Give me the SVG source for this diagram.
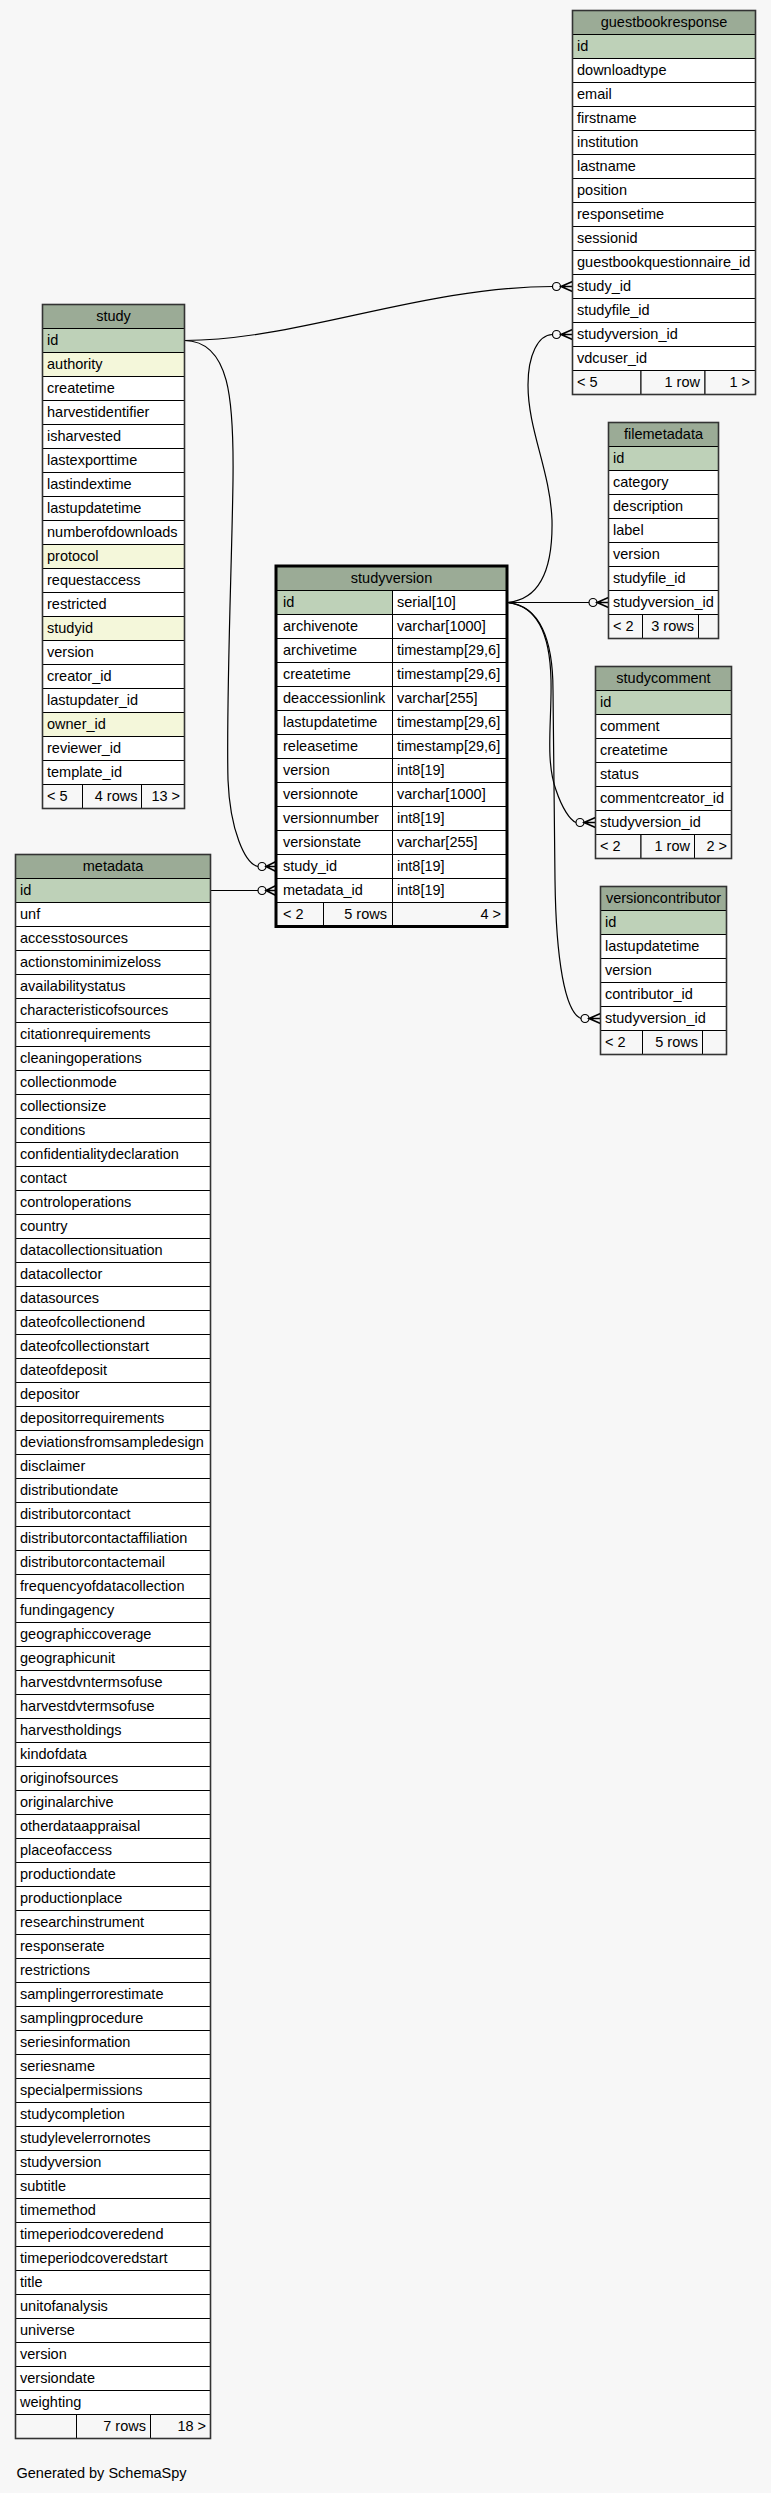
<svg xmlns="http://www.w3.org/2000/svg" width="771" height="2493" viewBox="0 0 771 2493">
<style>
rect{stroke:#000;stroke-width:1}
rect.bg{fill:#f7f7f7;stroke:none}
.hd{fill:#9bab96}.pk{fill:#bed1b8}.ix{fill:#f4f7da}.c{fill:#fff}.ft{fill:#f7f7f7}
.ob{fill:none;stroke:#333;stroke-width:1.6}
.obs{fill:none;stroke:#000;stroke-width:3}
text{font-family:"Liberation Sans",Arial,sans-serif;font-size:14.5px;fill:#000}
.h{text-anchor:middle}.r{text-anchor:end}
.e{fill:none;stroke:#000;stroke-width:1.2}
.dot{fill:#f7f7f7;stroke:#000;stroke-width:1.2}
.crow{fill:none;stroke:#000;stroke-width:1.6}
</style>
<rect class="bg" x="0" y="0" width="771" height="2493"/>

<g id="connectors">
<path class="e" d="M184.5,340.5 C300,340 420,287 552.5,286.5"/>
<circle class="dot" cx="556.5" cy="286.5" r="4"/>
<path class="crow" d="M572.5,281.5 L561,286.5 L572.5,291.5 M561,286.5 L572.5,286.5"/>

<path class="e" d="M184.5,340.5 C230,341 234,400 233,480 C232,560 226,700 228,780 C230,830 245,864 258,866.5"/>
<circle class="dot" cx="262" cy="866.5" r="4"/>
<path class="crow" d="M276,861.5 L266,866.5 L276,871.5 M266,866.5 L276,866.5"/>

<path class="e" d="M210.5,890.5 L258,890.5"/>
<circle class="dot" cx="262" cy="890.5" r="4"/>
<path class="crow" d="M276,885.5 L266,890.5 L276,895.5 M266,890.5 L276,890.5"/>

<path class="e" d="M507,602.5 C540,600 553,570 552,520 C550,470 528,430 528,385 C528,355 538,335 552.5,334.5"/>
<circle class="dot" cx="556.5" cy="334.5" r="4"/>
<path class="crow" d="M572.5,329.5 L561,334.5 L572.5,339.5 M561,334.5 L572.5,334.5"/>

<path class="e" d="M507,602.5 L589,602.5"/>
<circle class="dot" cx="593" cy="602.5" r="4"/>
<path class="crow" d="M608.5,597.5 L597,602.5 L608.5,607.5 M597,602.5 L608.5,602.5"/>

<path class="e" d="M507,602.5 C535,605 550,630 551,680 C552,720 545,760 556,790 C562,808 570,820 576,822.5"/>
<circle class="dot" cx="580" cy="822.5" r="4"/>
<path class="crow" d="M595.5,817.5 L584,822.5 L595.5,827.5 M584,822.5 L595.5,822.5"/>

<path class="e" d="M507,602.5 C540,605 553,640 553,690 L555,880 C556,960 565,1012 581,1018.5"/>
<circle class="dot" cx="585" cy="1018.5" r="4"/>
<path class="crow" d="M600.5,1013.5 L589,1018.5 L600.5,1023.5 M589,1018.5 L600.5,1018.5"/>
</g>

<g id="guestbookresponse">
<rect class="hd" x="572.5" y="10.5" width="183" height="24"/><text class="h" x="664" y="26.5">guestbookresponse</text>
<rect class="pk" x="572.5" y="34.5" width="183" height="24"/><text x="577" y="50.5">id</text>
<rect class="c" x="572.5" y="58.5" width="183" height="24"/><text x="577" y="74.5">downloadtype</text>
<rect class="c" x="572.5" y="82.5" width="183" height="24"/><text x="577" y="98.5">email</text>
<rect class="c" x="572.5" y="106.5" width="183" height="24"/><text x="577" y="122.5">firstname</text>
<rect class="c" x="572.5" y="130.5" width="183" height="24"/><text x="577" y="146.5">institution</text>
<rect class="c" x="572.5" y="154.5" width="183" height="24"/><text x="577" y="170.5">lastname</text>
<rect class="c" x="572.5" y="178.5" width="183" height="24"/><text x="577" y="194.5">position</text>
<rect class="c" x="572.5" y="202.5" width="183" height="24"/><text x="577" y="218.5">responsetime</text>
<rect class="c" x="572.5" y="226.5" width="183" height="24"/><text x="577" y="242.5">sessionid</text>
<rect class="c" x="572.5" y="250.5" width="183" height="24"/><text x="577" y="266.5">guestbookquestionnaire_id</text>
<rect class="c" x="572.5" y="274.5" width="183" height="24"/><text x="577" y="290.5">study_id</text>
<rect class="c" x="572.5" y="298.5" width="183" height="24"/><text x="577" y="314.5">studyfile_id</text>
<rect class="c" x="572.5" y="322.5" width="183" height="24"/><text x="577" y="338.5">studyversion_id</text>
<rect class="c" x="572.5" y="346.5" width="183" height="24"/><text x="577" y="362.5">vdcuser_id</text>
<rect class="ft" x="572.5" y="370.5" width="68.5" height="24"/><text x="577" y="386.5">&lt; 5</text>
<rect class="ft" x="641" y="370.5" width="64" height="24"/><text class="r" x="700" y="386.5">1 row</text>
<rect class="ft" x="705" y="370.5" width="50.5" height="24"/><text class="r" x="750" y="386.5">1 &gt;</text>
<rect class="ob" x="572.5" y="10.5" width="183" height="384"/>
</g>

<g id="study">
<rect class="hd" x="42.5" y="304.5" width="142" height="24"/><text class="h" x="113.5" y="320.5">study</text>
<rect class="pk" x="42.5" y="328.5" width="142" height="24"/><text x="47" y="344.5">id</text>
<rect class="ix" x="42.5" y="352.5" width="142" height="24"/><text x="47" y="368.5">authority</text>
<rect class="c" x="42.5" y="376.5" width="142" height="24"/><text x="47" y="392.5">createtime</text>
<rect class="c" x="42.5" y="400.5" width="142" height="24"/><text x="47" y="416.5">harvestidentifier</text>
<rect class="c" x="42.5" y="424.5" width="142" height="24"/><text x="47" y="440.5">isharvested</text>
<rect class="c" x="42.5" y="448.5" width="142" height="24"/><text x="47" y="464.5">lastexporttime</text>
<rect class="c" x="42.5" y="472.5" width="142" height="24"/><text x="47" y="488.5">lastindextime</text>
<rect class="c" x="42.5" y="496.5" width="142" height="24"/><text x="47" y="512.5">lastupdatetime</text>
<rect class="c" x="42.5" y="520.5" width="142" height="24"/><text x="47" y="536.5">numberofdownloads</text>
<rect class="ix" x="42.5" y="544.5" width="142" height="24"/><text x="47" y="560.5">protocol</text>
<rect class="c" x="42.5" y="568.5" width="142" height="24"/><text x="47" y="584.5">requestaccess</text>
<rect class="c" x="42.5" y="592.5" width="142" height="24"/><text x="47" y="608.5">restricted</text>
<rect class="ix" x="42.5" y="616.5" width="142" height="24"/><text x="47" y="632.5">studyid</text>
<rect class="c" x="42.5" y="640.5" width="142" height="24"/><text x="47" y="656.5">version</text>
<rect class="c" x="42.5" y="664.5" width="142" height="24"/><text x="47" y="680.5">creator_id</text>
<rect class="c" x="42.5" y="688.5" width="142" height="24"/><text x="47" y="704.5">lastupdater_id</text>
<rect class="ix" x="42.5" y="712.5" width="142" height="24"/><text x="47" y="728.5">owner_id</text>
<rect class="c" x="42.5" y="736.5" width="142" height="24"/><text x="47" y="752.5">reviewer_id</text>
<rect class="c" x="42.5" y="760.5" width="142" height="24"/><text x="47" y="776.5">template_id</text>
<rect class="ft" x="42.5" y="784.5" width="40" height="24"/><text x="47" y="800.5">&lt; 5</text>
<rect class="ft" x="82.5" y="784.5" width="59" height="24"/><text class="r" x="137.5" y="800.5">4 rows</text>
<rect class="ft" x="141.5" y="784.5" width="43" height="24"/><text class="r" x="180" y="800.5">13 &gt;</text>
<rect class="ob" x="42.5" y="304.5" width="142" height="504"/>
</g>

<g id="studyversion">
<rect class="hd" x="276" y="566" width="231" height="24.5"/><text class="h" x="391.5" y="582.5">studyversion</text>
<rect class="pk" x="276" y="590.5" width="116.5" height="24"/><text x="283" y="606.5">id</text>
<rect class="c" x="392.5" y="590.5" width="114.5" height="24"/><text x="397" y="606.5">serial[10]</text>
<rect class="c" x="276" y="614.5" width="116.5" height="24"/><text x="283" y="630.5">archivenote</text>
<rect class="c" x="392.5" y="614.5" width="114.5" height="24"/><text x="397" y="630.5">varchar[1000]</text>
<rect class="c" x="276" y="638.5" width="116.5" height="24"/><text x="283" y="654.5">archivetime</text>
<rect class="c" x="392.5" y="638.5" width="114.5" height="24"/><text x="397" y="654.5">timestamp[29,6]</text>
<rect class="c" x="276" y="662.5" width="116.5" height="24"/><text x="283" y="678.5">createtime</text>
<rect class="c" x="392.5" y="662.5" width="114.5" height="24"/><text x="397" y="678.5">timestamp[29,6]</text>
<rect class="c" x="276" y="686.5" width="116.5" height="24"/><text x="283" y="702.5">deaccessionlink</text>
<rect class="c" x="392.5" y="686.5" width="114.5" height="24"/><text x="397" y="702.5">varchar[255]</text>
<rect class="c" x="276" y="710.5" width="116.5" height="24"/><text x="283" y="726.5">lastupdatetime</text>
<rect class="c" x="392.5" y="710.5" width="114.5" height="24"/><text x="397" y="726.5">timestamp[29,6]</text>
<rect class="c" x="276" y="734.5" width="116.5" height="24"/><text x="283" y="750.5">releasetime</text>
<rect class="c" x="392.5" y="734.5" width="114.5" height="24"/><text x="397" y="750.5">timestamp[29,6]</text>
<rect class="c" x="276" y="758.5" width="116.5" height="24"/><text x="283" y="774.5">version</text>
<rect class="c" x="392.5" y="758.5" width="114.5" height="24"/><text x="397" y="774.5">int8[19]</text>
<rect class="c" x="276" y="782.5" width="116.5" height="24"/><text x="283" y="798.5">versionnote</text>
<rect class="c" x="392.5" y="782.5" width="114.5" height="24"/><text x="397" y="798.5">varchar[1000]</text>
<rect class="c" x="276" y="806.5" width="116.5" height="24"/><text x="283" y="822.5">versionnumber</text>
<rect class="c" x="392.5" y="806.5" width="114.5" height="24"/><text x="397" y="822.5">int8[19]</text>
<rect class="c" x="276" y="830.5" width="116.5" height="24"/><text x="283" y="846.5">versionstate</text>
<rect class="c" x="392.5" y="830.5" width="114.5" height="24"/><text x="397" y="846.5">varchar[255]</text>
<rect class="c" x="276" y="854.5" width="116.5" height="24"/><text x="283" y="870.5">study_id</text>
<rect class="c" x="392.5" y="854.5" width="114.5" height="24"/><text x="397" y="870.5">int8[19]</text>
<rect class="c" x="276" y="878.5" width="116.5" height="24"/><text x="283" y="894.5">metadata_id</text>
<rect class="c" x="392.5" y="878.5" width="114.5" height="24"/><text x="397" y="894.5">int8[19]</text>
<rect class="ft" x="276" y="902.5" width="47.5" height="24"/><text x="283" y="918.5">&lt; 2</text>
<rect class="ft" x="323.5" y="902.5" width="69" height="24"/><text class="r" x="387" y="918.5">5 rows</text>
<rect class="ft" x="392.5" y="902.5" width="114.5" height="24"/><text class="r" x="501" y="918.5">4 &gt;</text>
<rect class="obs" x="276" y="566" width="231" height="360.5"/>
</g>

<g id="filemetadata">
<rect class="hd" x="608.5" y="422.5" width="110" height="24"/><text class="h" x="663.5" y="438.5">filemetadata</text>
<rect class="pk" x="608.5" y="446.5" width="110" height="24"/><text x="613" y="462.5">id</text>
<rect class="c" x="608.5" y="470.5" width="110" height="24"/><text x="613" y="486.5">category</text>
<rect class="c" x="608.5" y="494.5" width="110" height="24"/><text x="613" y="510.5">description</text>
<rect class="c" x="608.5" y="518.5" width="110" height="24"/><text x="613" y="534.5">label</text>
<rect class="c" x="608.5" y="542.5" width="110" height="24"/><text x="613" y="558.5">version</text>
<rect class="c" x="608.5" y="566.5" width="110" height="24"/><text x="613" y="582.5">studyfile_id</text>
<rect class="c" x="608.5" y="590.5" width="110" height="24"/><text x="613" y="606.5">studyversion_id</text>
<rect class="ft" x="608.5" y="614.5" width="34" height="24"/><text x="613" y="630.5">&lt; 2</text>
<rect class="ft" x="642.5" y="614.5" width="56" height="24"/><text class="r" x="694" y="630.5">3 rows</text>
<rect class="ft" x="698.5" y="614.5" width="20" height="24"/>
<rect class="ob" x="608.5" y="422.5" width="110" height="216"/>
</g>

<g id="studycomment">
<rect class="hd" x="595.5" y="666.5" width="136" height="24"/><text class="h" x="663.5" y="682.5">studycomment</text>
<rect class="pk" x="595.5" y="690.5" width="136" height="24"/><text x="600" y="706.5">id</text>
<rect class="c" x="595.5" y="714.5" width="136" height="24"/><text x="600" y="730.5">comment</text>
<rect class="c" x="595.5" y="738.5" width="136" height="24"/><text x="600" y="754.5">createtime</text>
<rect class="c" x="595.5" y="762.5" width="136" height="24"/><text x="600" y="778.5">status</text>
<rect class="c" x="595.5" y="786.5" width="136" height="24"/><text x="600" y="802.5">commentcreator_id</text>
<rect class="c" x="595.5" y="810.5" width="136" height="24"/><text x="600" y="826.5">studyversion_id</text>
<rect class="ft" x="595.5" y="834.5" width="45.5" height="24"/><text x="600" y="850.5">&lt; 2</text>
<rect class="ft" x="641" y="834.5" width="53.5" height="24"/><text class="r" x="690" y="850.5">1 row</text>
<rect class="ft" x="694.5" y="834.5" width="37" height="24"/><text class="r" x="727" y="850.5">2 &gt;</text>
<rect class="ob" x="595.5" y="666.5" width="136" height="192"/>
</g>

<g id="versioncontributor">
<rect class="hd" x="600.5" y="886.5" width="126" height="24"/><text class="h" x="663.5" y="902.5">versioncontributor</text>
<rect class="pk" x="600.5" y="910.5" width="126" height="24"/><text x="605" y="926.5">id</text>
<rect class="c" x="600.5" y="934.5" width="126" height="24"/><text x="605" y="950.5">lastupdatetime</text>
<rect class="c" x="600.5" y="958.5" width="126" height="24"/><text x="605" y="974.5">version</text>
<rect class="c" x="600.5" y="982.5" width="126" height="24"/><text x="605" y="998.5">contributor_id</text>
<rect class="c" x="600.5" y="1006.5" width="126" height="24"/><text x="605" y="1022.5">studyversion_id</text>
<rect class="ft" x="600.5" y="1030.5" width="42" height="24"/><text x="605" y="1046.5">&lt; 2</text>
<rect class="ft" x="642.5" y="1030.5" width="60" height="24"/><text class="r" x="698" y="1046.5">5 rows</text>
<rect class="ft" x="702.5" y="1030.5" width="24" height="24"/>
<rect class="ob" x="600.5" y="886.5" width="126" height="168"/>
</g>

<g id="metadata">
<rect class="hd" x="15.5" y="854.5" width="195" height="24"/><text class="h" x="113" y="870.5">metadata</text>
<rect class="pk" x="15.5" y="878.5" width="195" height="24"/><text x="20" y="894.5">id</text>
<rect class="c" x="15.5" y="902.5" width="195" height="24"/><text x="20" y="918.5">unf</text>
<rect class="c" x="15.5" y="926.5" width="195" height="24"/><text x="20" y="942.5">accesstosources</text>
<rect class="c" x="15.5" y="950.5" width="195" height="24"/><text x="20" y="966.5">actionstominimizeloss</text>
<rect class="c" x="15.5" y="974.5" width="195" height="24"/><text x="20" y="990.5">availabilitystatus</text>
<rect class="c" x="15.5" y="998.5" width="195" height="24"/><text x="20" y="1014.5">characteristicofsources</text>
<rect class="c" x="15.5" y="1022.5" width="195" height="24"/><text x="20" y="1038.5">citationrequirements</text>
<rect class="c" x="15.5" y="1046.5" width="195" height="24"/><text x="20" y="1062.5">cleaningoperations</text>
<rect class="c" x="15.5" y="1070.5" width="195" height="24"/><text x="20" y="1086.5">collectionmode</text>
<rect class="c" x="15.5" y="1094.5" width="195" height="24"/><text x="20" y="1110.5">collectionsize</text>
<rect class="c" x="15.5" y="1118.5" width="195" height="24"/><text x="20" y="1134.5">conditions</text>
<rect class="c" x="15.5" y="1142.5" width="195" height="24"/><text x="20" y="1158.5">confidentialitydeclaration</text>
<rect class="c" x="15.5" y="1166.5" width="195" height="24"/><text x="20" y="1182.5">contact</text>
<rect class="c" x="15.5" y="1190.5" width="195" height="24"/><text x="20" y="1206.5">controloperations</text>
<rect class="c" x="15.5" y="1214.5" width="195" height="24"/><text x="20" y="1230.5">country</text>
<rect class="c" x="15.5" y="1238.5" width="195" height="24"/><text x="20" y="1254.5">datacollectionsituation</text>
<rect class="c" x="15.5" y="1262.5" width="195" height="24"/><text x="20" y="1278.5">datacollector</text>
<rect class="c" x="15.5" y="1286.5" width="195" height="24"/><text x="20" y="1302.5">datasources</text>
<rect class="c" x="15.5" y="1310.5" width="195" height="24"/><text x="20" y="1326.5">dateofcollectionend</text>
<rect class="c" x="15.5" y="1334.5" width="195" height="24"/><text x="20" y="1350.5">dateofcollectionstart</text>
<rect class="c" x="15.5" y="1358.5" width="195" height="24"/><text x="20" y="1374.5">dateofdeposit</text>
<rect class="c" x="15.5" y="1382.5" width="195" height="24"/><text x="20" y="1398.5">depositor</text>
<rect class="c" x="15.5" y="1406.5" width="195" height="24"/><text x="20" y="1422.5">depositorrequirements</text>
<rect class="c" x="15.5" y="1430.5" width="195" height="24"/><text x="20" y="1446.5">deviationsfromsampledesign</text>
<rect class="c" x="15.5" y="1454.5" width="195" height="24"/><text x="20" y="1470.5">disclaimer</text>
<rect class="c" x="15.5" y="1478.5" width="195" height="24"/><text x="20" y="1494.5">distributiondate</text>
<rect class="c" x="15.5" y="1502.5" width="195" height="24"/><text x="20" y="1518.5">distributorcontact</text>
<rect class="c" x="15.5" y="1526.5" width="195" height="24"/><text x="20" y="1542.5">distributorcontactaffiliation</text>
<rect class="c" x="15.5" y="1550.5" width="195" height="24"/><text x="20" y="1566.5">distributorcontactemail</text>
<rect class="c" x="15.5" y="1574.5" width="195" height="24"/><text x="20" y="1590.5">frequencyofdatacollection</text>
<rect class="c" x="15.5" y="1598.5" width="195" height="24"/><text x="20" y="1614.5">fundingagency</text>
<rect class="c" x="15.5" y="1622.5" width="195" height="24"/><text x="20" y="1638.5">geographiccoverage</text>
<rect class="c" x="15.5" y="1646.5" width="195" height="24"/><text x="20" y="1662.5">geographicunit</text>
<rect class="c" x="15.5" y="1670.5" width="195" height="24"/><text x="20" y="1686.5">harvestdvntermsofuse</text>
<rect class="c" x="15.5" y="1694.5" width="195" height="24"/><text x="20" y="1710.5">harvestdvtermsofuse</text>
<rect class="c" x="15.5" y="1718.5" width="195" height="24"/><text x="20" y="1734.5">harvestholdings</text>
<rect class="c" x="15.5" y="1742.5" width="195" height="24"/><text x="20" y="1758.5">kindofdata</text>
<rect class="c" x="15.5" y="1766.5" width="195" height="24"/><text x="20" y="1782.5">originofsources</text>
<rect class="c" x="15.5" y="1790.5" width="195" height="24"/><text x="20" y="1806.5">originalarchive</text>
<rect class="c" x="15.5" y="1814.5" width="195" height="24"/><text x="20" y="1830.5">otherdataappraisal</text>
<rect class="c" x="15.5" y="1838.5" width="195" height="24"/><text x="20" y="1854.5">placeofaccess</text>
<rect class="c" x="15.5" y="1862.5" width="195" height="24"/><text x="20" y="1878.5">productiondate</text>
<rect class="c" x="15.5" y="1886.5" width="195" height="24"/><text x="20" y="1902.5">productionplace</text>
<rect class="c" x="15.5" y="1910.5" width="195" height="24"/><text x="20" y="1926.5">researchinstrument</text>
<rect class="c" x="15.5" y="1934.5" width="195" height="24"/><text x="20" y="1950.5">responserate</text>
<rect class="c" x="15.5" y="1958.5" width="195" height="24"/><text x="20" y="1974.5">restrictions</text>
<rect class="c" x="15.5" y="1982.5" width="195" height="24"/><text x="20" y="1998.5">samplingerrorestimate</text>
<rect class="c" x="15.5" y="2006.5" width="195" height="24"/><text x="20" y="2022.5">samplingprocedure</text>
<rect class="c" x="15.5" y="2030.5" width="195" height="24"/><text x="20" y="2046.5">seriesinformation</text>
<rect class="c" x="15.5" y="2054.5" width="195" height="24"/><text x="20" y="2070.5">seriesname</text>
<rect class="c" x="15.5" y="2078.5" width="195" height="24"/><text x="20" y="2094.5">specialpermissions</text>
<rect class="c" x="15.5" y="2102.5" width="195" height="24"/><text x="20" y="2118.5">studycompletion</text>
<rect class="c" x="15.5" y="2126.5" width="195" height="24"/><text x="20" y="2142.5">studylevelerrornotes</text>
<rect class="c" x="15.5" y="2150.5" width="195" height="24"/><text x="20" y="2166.5">studyversion</text>
<rect class="c" x="15.5" y="2174.5" width="195" height="24"/><text x="20" y="2190.5">subtitle</text>
<rect class="c" x="15.5" y="2198.5" width="195" height="24"/><text x="20" y="2214.5">timemethod</text>
<rect class="c" x="15.5" y="2222.5" width="195" height="24"/><text x="20" y="2238.5">timeperiodcoveredend</text>
<rect class="c" x="15.5" y="2246.5" width="195" height="24"/><text x="20" y="2262.5">timeperiodcoveredstart</text>
<rect class="c" x="15.5" y="2270.5" width="195" height="24"/><text x="20" y="2286.5">title</text>
<rect class="c" x="15.5" y="2294.5" width="195" height="24"/><text x="20" y="2310.5">unitofanalysis</text>
<rect class="c" x="15.5" y="2318.5" width="195" height="24"/><text x="20" y="2334.5">universe</text>
<rect class="c" x="15.5" y="2342.5" width="195" height="24"/><text x="20" y="2358.5">version</text>
<rect class="c" x="15.5" y="2366.5" width="195" height="24"/><text x="20" y="2382.5">versiondate</text>
<rect class="c" x="15.5" y="2390.5" width="195" height="24"/><text x="20" y="2406.5">weighting</text>
<rect class="ft" x="15.5" y="2414.5" width="61" height="24"/>
<rect class="ft" x="76.5" y="2414.5" width="74" height="24"/><text class="r" x="146" y="2430.5">7 rows</text>
<rect class="ft" x="150.5" y="2414.5" width="60" height="24"/><text class="r" x="206" y="2430.5">18 &gt;</text>
<rect class="ob" x="15.5" y="854.5" width="195" height="1584"/>
</g>

<text x="16.5" y="2478">Generated by SchemaSpy</text>
</svg>
